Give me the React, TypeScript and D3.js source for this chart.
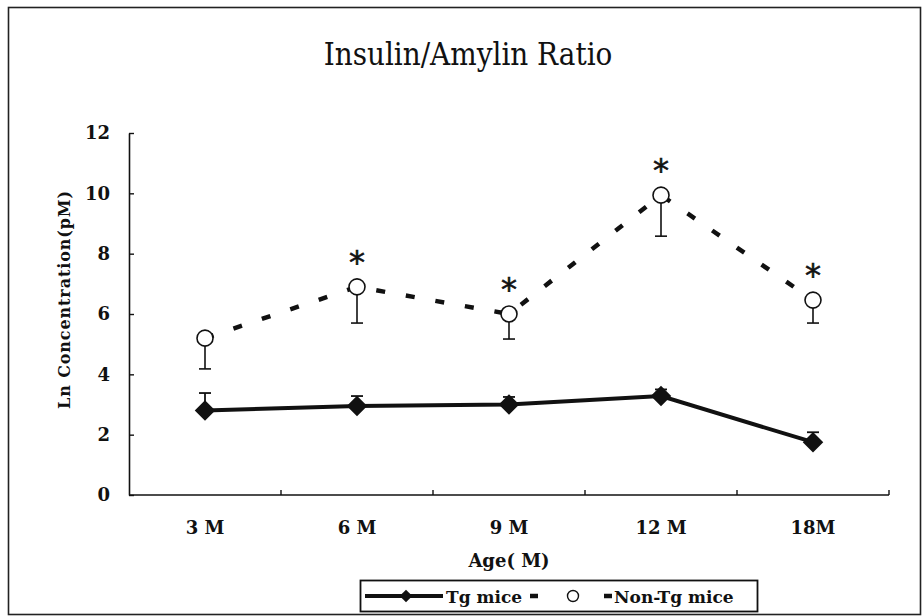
import React, { useRef, useEffect } from 'react';
import * as d3 from 'd3';

// values
const ageLabels = ['3 M', '6 M', '9 M', '12 M', '18M'];
const tgMean = [2.8, 2.95, 3.0, 3.28, 1.75];
const tgErr = [0.58, 0.33, 0.25, 0.22, 0.33];
const nonTgMean = [5.2, 6.9, 6.0, 9.94, 6.46];
const nonTgErr = [1.02, 1.2, 0.83, 1.36, 0.76];
const significant = [false, true, true, true, true];
const yTicks = [0, 2, 4, 6, 8, 10, 12];

const App = () => {
    const svgRef = useRef<SVGSVGElement>(null);

    useEffect(() => {
        const width = 924;
        const height = 616;
        const marginLeft = 129;
        const plotRight = 889;
        const plotTop = 133;
        const plotBottom = 495;
        const serif = "'DejaVu Serif', 'Liberation Serif', serif";

        const svg = d3.select(svgRef.current)
            .attr('width', width)
            .attr('height', height)
            .attr('viewBox', `0 0 ${width} ${height}`);

        svg.selectAll('*').remove();

        svg.append('rect')
            .attr('width', width).attr('height', height)
            .attr('fill', '#fff');

        // outer frame
        svg.append('rect')
            .attr('x', 8.5).attr('y', 7.5)
            .attr('width', 912).attr('height', 607)
            .attr('fill', 'none')
            .attr('stroke', '#222')
            .attr('stroke-width', 1.6);

        const x = d3.scaleBand<string>()
            .domain(ageLabels)
            .range([marginLeft, plotRight]);

        const y = d3.scaleLinear()
            .domain([0, 12])
            .range([plotBottom, plotTop]);

        const cx = (i: number) => (x(ageLabels[i]) as number) + x.bandwidth() / 2;

        // title
        svg.append('text')
            .attr('x', 468).attr('y', 65)
            .attr('text-anchor', 'middle')
            .attr('font-family', "'DejaVu Serif Condensed', 'DejaVu Serif', serif")
            .attr('font-stretch', 'condensed')
            .attr('font-size', 31)
            .attr('fill', '#111')
            .text('Insulin/Amylin Ratio');

        // y axis
        const yAxis = svg.append('g')
            .attr('transform', `translate(${marginLeft},0)`)
            .call(d3.axisLeft(y).tickValues(yTicks).tickSize(-5).tickSizeOuter(0).tickPadding(19))
            .call(g => g.select('.domain').attr('stroke', '#111').attr('stroke-width', 1.6));
        yAxis.selectAll('.tick line').attr('stroke', '#111').attr('stroke-width', 1.4);
        yAxis.selectAll('.tick text')
            .attr('font-family', serif)
            .attr('font-weight', 'bold')
            .attr('font-size', 18)
            .attr('fill', '#111');

        // x axis: ticks between categories, pointing up
        const xAxis = svg.append('g');
        xAxis.append('line')
            .attr('x1', marginLeft).attr('x2', plotRight)
            .attr('y1', plotBottom).attr('y2', plotBottom)
            .attr('stroke', '#111').attr('stroke-width', 1.6);
        const bounds = ageLabels.slice(1).map(d => x(d) as number).concat([plotRight]);
        xAxis.selectAll('line.tk')
            .data(bounds)
            .join('line')
            .attr('class', 'tk')
            .attr('x1', d => d).attr('x2', d => d)
            .attr('y1', plotBottom).attr('y2', plotBottom - 5)
            .attr('stroke', '#111').attr('stroke-width', 1.4);
        xAxis.selectAll('text')
            .data(ageLabels)
            .join('text')
            .attr('x', (d, i) => cx(i))
            .attr('y', 534)
            .attr('text-anchor', 'middle')
            .attr('font-family', serif)
            .attr('font-weight', 'bold')
            .attr('font-size', 18)
            .attr('fill', '#111')
            .text(d => d);

        // axis titles
        svg.append('text')
            .attr('x', (marginLeft + plotRight) / 2).attr('y', 567)
            .attr('text-anchor', 'middle')
            .attr('font-family', serif)
            .attr('font-weight', 'bold')
            .attr('font-size', 18)
            .attr('fill', '#111')
            .text('Age( M)');

        svg.append('text')
            .attr('transform', `translate(70,300) rotate(-90)`)
            .attr('text-anchor', 'middle')
            .attr('font-family', serif)
            .attr('font-weight', 'bold')
            .attr('font-size', 16)
            .attr('textLength', 218)
            .attr('lengthAdjust', 'spacing')
            .attr('fill', '#111')
            .text('Ln Concentration(pM)');

        // Non-Tg: dashed line, lower error bars, open circles
        const idx = d3.range(ageLabels.length);
        const line = d3.line<number>()
            .x(i => cx(i));

        svg.append('path')
            .datum(idx)
            .attr('fill', 'none')
            .attr('stroke', '#111')
            .attr('stroke-width', 4.5)
            .attr('stroke-dasharray', '9 21')
            .attr('d', line.y(i => y(nonTgMean[i])));

        const nonErr = svg.append('g').attr('stroke', '#111').attr('stroke-width', 1.6);
        idx.forEach(i => {
            nonErr.append('line')
                .attr('x1', cx(i)).attr('x2', cx(i))
                .attr('y1', y(nonTgMean[i])).attr('y2', y(nonTgMean[i] - nonTgErr[i]));
            nonErr.append('line')
                .attr('x1', cx(i) - 6).attr('x2', cx(i) + 6)
                .attr('y1', y(nonTgMean[i] - nonTgErr[i])).attr('y2', y(nonTgMean[i] - nonTgErr[i]));
        });

        svg.append('g')
            .selectAll('circle')
            .data(idx)
            .join('circle')
            .attr('cx', i => cx(i))
            .attr('cy', i => y(nonTgMean[i]))
            .attr('r', 8)
            .attr('fill', '#fff')
            .attr('stroke', '#111')
            .attr('stroke-width', 1.6);

        // significance stars
        svg.append('g')
            .selectAll('text')
            .data(idx.filter(i => significant[i]))
            .join('text')
            .attr('x', i => cx(i))
            .attr('y', i => y(nonTgMean[i]) - 14)
            .attr('text-anchor', 'middle')
            .attr('font-family', "'DejaVu Sans', sans-serif")
            .attr('font-size', 32)
            .attr('stroke', '#111')
            .attr('stroke-width', 0.6)
            .attr('fill', '#111')
            .text('*');

        // Tg: upper error bars, solid line, diamonds
        const tgErrG = svg.append('g').attr('stroke', '#111').attr('stroke-width', 1.8);
        idx.forEach(i => {
            tgErrG.append('line')
                .attr('x1', cx(i)).attr('x2', cx(i))
                .attr('y1', y(tgMean[i])).attr('y2', y(tgMean[i] + tgErr[i]));
            tgErrG.append('line')
                .attr('x1', cx(i) - 6).attr('x2', cx(i) + 6)
                .attr('y1', y(tgMean[i] + tgErr[i])).attr('y2', y(tgMean[i] + tgErr[i]));
        });

        svg.append('path')
            .datum(idx)
            .attr('fill', 'none')
            .attr('stroke', '#111')
            .attr('stroke-width', 4)
            .attr('d', line.y(i => y(tgMean[i])));

        const diamond = d3.symbol(d3.symbolSquare, 210);
        svg.append('g')
            .selectAll('path')
            .data(idx)
            .join('path')
            .attr('transform', i => `translate(${cx(i)},${y(tgMean[i])}) rotate(45)`)
            .attr('d', diamond)
            .attr('fill', '#111');

        // legend
        const lg = svg.append('g');
        lg.append('rect')
            .attr('x', 360.5).attr('y', 580.5)
            .attr('width', 397).attr('height', 31)
            .attr('fill', '#fff')
            .attr('stroke', '#111')
            .attr('stroke-width', 1.8);
        const ly = 596;
        lg.append('line')
            .attr('x1', 365).attr('x2', 443)
            .attr('y1', ly).attr('y2', ly)
            .attr('stroke', '#111').attr('stroke-width', 4);
        lg.append('path')
            .attr('transform', `translate(406,${ly}) rotate(45)`)
            .attr('d', d3.symbol(d3.symbolSquare, 80))
            .attr('fill', '#111');
        lg.append('text')
            .attr('x', 446).attr('y', 603)
            .attr('font-family', serif)
            .attr('font-weight', 'bold')
            .attr('font-size', 17)
            .attr('fill', '#111')
            .text('Tg mice');
        lg.append('line')
            .attr('x1', 530).attr('x2', 612)
            .attr('y1', ly).attr('y2', ly)
            .attr('stroke', '#111').attr('stroke-width', 4.5)
            .attr('stroke-dasharray', '8 66');
        lg.append('circle')
            .attr('cx', 573).attr('cy', ly)
            .attr('r', 5.5)
            .attr('fill', '#fff')
            .attr('stroke', '#111')
            .attr('stroke-width', 1.4);
        lg.append('text')
            .attr('x', 614).attr('y', 603)
            .attr('font-family', serif)
            .attr('font-weight', 'bold')
            .attr('font-size', 17)
            .attr('fill', '#111')
            .text('Non-Tg mice');
    }, []);

    return (
        <svg ref={svgRef} style={{ position: 'absolute', left: 0, top: 0, display: 'block' }}></svg>
    );
};

export default App;
